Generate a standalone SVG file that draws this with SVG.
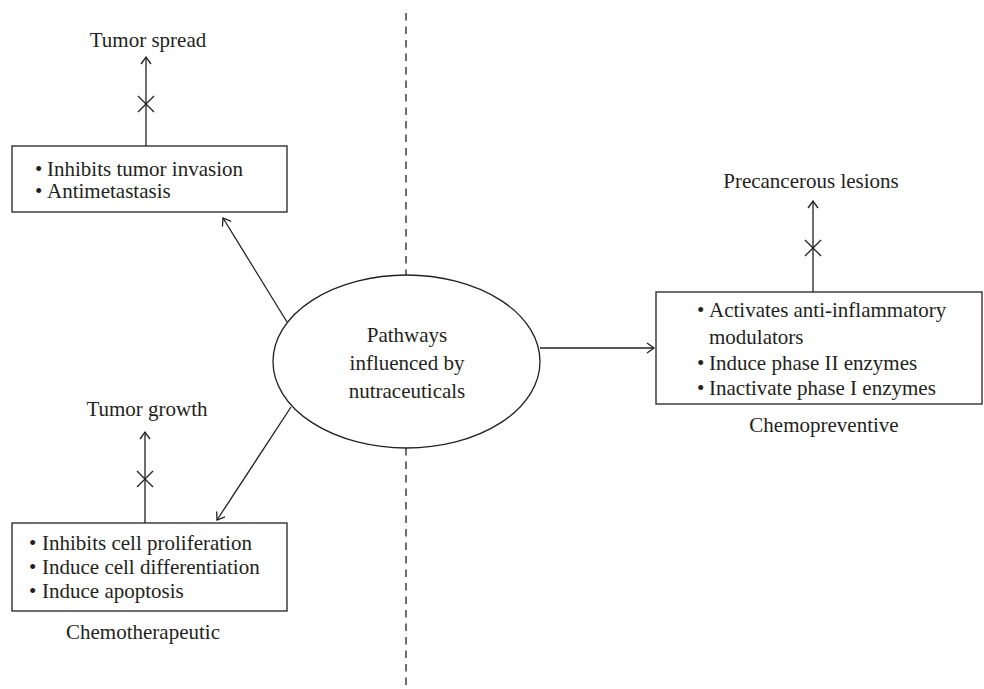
<svg xmlns="http://www.w3.org/2000/svg" width="984" height="689" viewBox="0 0 984 689">
<defs>
<style>
text{font-family:"Liberation Serif","Times New Roman",serif;font-size:21px;fill:#231f20}
.c{text-anchor:middle}
.ln{stroke:#231f20;stroke-width:1.3;fill:none}
.box{stroke:#231f20;stroke-width:1.3;fill:#fff}
.dash{stroke:#231f20;stroke-width:1.3;stroke-dasharray:7.5 6;fill:none}
</style>
<marker id="arr" markerUnits="userSpaceOnUse" markerWidth="20" markerHeight="20" viewBox="-10 -10 20 20" refX="0" refY="0" orient="auto">
<path d="M-7,-5 L0,0 L-7,5" fill="none" stroke="#231f20" stroke-width="1.3"/>
</marker>
</defs>
<rect width="984" height="689" fill="#fff"/>
<g id="divider">
<line class="dash" x1="406" y1="13" x2="406" y2="275"/>
<line class="dash" x1="406" y1="448" x2="406" y2="689"/>
</g>
<g id="connectors">
<line class="ln" x1="287" y1="322" x2="223" y2="218" marker-end="url(#arr)"/>
<line class="ln" x1="291" y1="407" x2="217" y2="520" marker-end="url(#arr)"/>
<line class="ln" x1="540" y1="348" x2="654" y2="348" marker-end="url(#arr)"/>
<line class="ln" x1="146" y1="146" x2="146" y2="57" marker-end="url(#arr)"/>
<path class="ln" d="M138,96 L154,112 M154,96 L138,112"/>
<line class="ln" x1="145" y1="523" x2="145" y2="432" marker-end="url(#arr)"/>
<path class="ln" d="M137,471 L153,487 M153,471 L137,487"/>
<line class="ln" x1="813" y1="292" x2="813" y2="201" marker-end="url(#arr)"/>
<path class="ln" d="M805,240 L821,256 M821,240 L805,256"/>
</g>
<g id="center">
<ellipse class="box" cx="406.5" cy="361.5" rx="133.5" ry="86.5"/>
<text class="c" x="407" y="342">Pathways</text>
<text class="c" x="407" y="370">influenced by</text>
<text class="c" x="407" y="398">nutraceuticals</text>
</g>
<g id="tumor-spread">
<text class="c" x="148" y="47">Tumor spread</text>
</g>
<g id="antimetastasis-box">
<rect class="box" x="12" y="146" width="275" height="66"/>
<text x="35" y="176">•</text><text x="47" y="176">Inhibits tumor invasion</text>
<text x="35" y="198">•</text><text x="47" y="198">Antimetastasis</text>
</g>
<g id="tumor-growth">
<text class="c" x="147" y="416">Tumor growth</text>
</g>
<g id="chemotherapeutic-box">
<rect class="box" x="12" y="523" width="275" height="88"/>
<text x="29" y="550">•</text><text x="42" y="550">Inhibits cell proliferation</text>
<text x="29" y="574">•</text><text x="42" y="574">Induce cell differentiation</text>
<text x="29" y="598">•</text><text x="42" y="598">Induce apoptosis</text>
<text class="c" x="143" y="639">Chemotherapeutic</text>
</g>
<g id="precancerous">
<text class="c" x="811" y="188">Precancerous lesions</text>
</g>
<g id="chemopreventive-box">
<rect class="box" x="656" y="292" width="326" height="112"/>
<text x="697" y="317">•</text><text x="709" y="317">Activates anti-inflammatory</text>
<text x="709" y="344">modulators</text>
<text x="697" y="370">•</text><text x="709" y="370">Induce phase II enzymes</text>
<text x="697" y="395">•</text><text x="709" y="395">Inactivate phase I enzymes</text>
<text class="c" x="824" y="432">Chemopreventive</text>
</g>
</svg>
